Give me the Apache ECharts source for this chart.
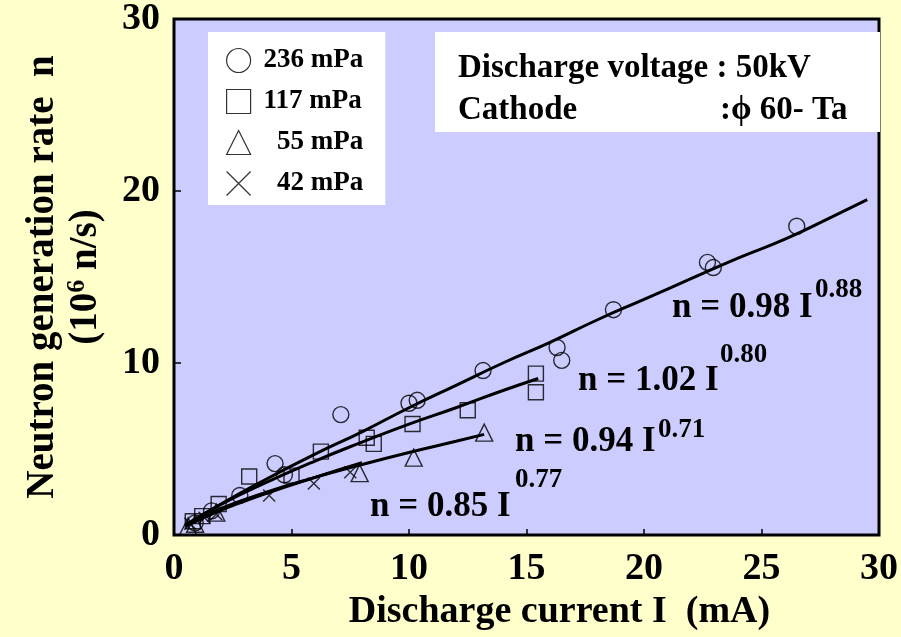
<!DOCTYPE html>
<html><head><meta charset="utf-8">
<script src="https://cdn.jsdelivr.net/npm/echarts@6/dist/echarts.min.js"></script>
<style>html,body{margin:0;padding:0;background:#FFFFCC;}#c{width:901px;height:637px;}</style>
</head><body><div id="c"></div>
<script>
// ---- data ----
const xTicks = [0, 5, 10, 15, 20, 25, 30];
const yTicks = [0, 10, 20, 30];
const seriesNames = ['236 mPa', '117 mPa', '55 mPa', '42 mPa'];
// measured points [I (mA), n (1e6 n/s)]
const pts236 = [[0.9,0.7],[1.6,1.4],[2.8,2.3],[4.3,4.15],[4.7,3.5],[7.1,7.0],[10.0,7.66],[10.35,7.83],[13.15,9.56],[16.3,10.9],[16.5,10.15],[18.7,13.1],[22.7,15.85],[22.95,15.55],[26.5,17.95]];
const pts117 = [[0.8,0.8],[1.2,1.1],[1.9,1.8],[3.2,3.4],[5.0,3.45],[6.25,4.85],[8.2,5.65],[8.5,5.3],[10.15,6.45],[12.5,7.25],[15.4,9.38],[15.4,8.3]];
const pts55 = [[0.6,0.5],[0.9,0.65],[1.8,1.3],[7.9,3.6],[10.2,4.5],[13.2,5.95]];
const pts42 = [[0.7,0.65],[1.3,1.0],[1.8,1.2],[4.05,2.3],[5.95,3.0],[7.5,3.65]];
// fitted curves
const fit236 = [[0.5,0.55],[2,1.8],[4,3.3],[6,4.7],[8,6.0],[10,7.4],[12,8.7],[14,10.0],[16,11.2],[18,12.5],[20,13.7],[22,14.9],[24,16.1],[26,17.2],[28,18.5],[29.5,19.5]];
const fit117 = [[0.5,0.6],[2,1.78],[4,3.1],[6,4.3],[8,5.4],[10,6.45],[12,7.4],[14,8.4],[15.5,9.1]];
const fit55 = [[0.5,0.58],[2,1.54],[4,2.52],[6,3.35],[8,4.1],[10,4.8],[12,5.45],[13.2,5.85]];
const fit42 = [[0.5,0.5],[2,1.45],[4,2.45],[6,3.35],[8,4.2]];
const fitLabels = [
  {main:'n = 0.98 I', sup:'0.88'},
  {main:'n = 1.02 I', sup:'0.80'},
  {main:'n = 0.94 I', sup:'0.71'},
  {main:'n = 0.85 I', sup:'0.77'}
];
const infoLines = ['Discharge voltage : 50kV', 'Cathode', ':\u03D5 60- Ta'];

// ---- chart ----
const F = '"Liberation Serif", "DejaVu Serif", serif';
const crossPath = 'path://M0,0L10,10M10,0L0,10';
const symbols = ['circle', 'rect', 'triangle', crossPath];
const sizes = [16, 15, 17, 12];
const ptsAll = [pts236, pts117, pts55, pts42];
const fitsAll = [fit236, fit117, fit55, fit42];

const series = [];
fitsAll.forEach((d, i) => {
  series.push({
    type: 'line', data: d, smooth: true, showSymbol: false, silent: true,
    lineStyle: {color: '#000', width: 3}, z: 3
  });
});
ptsAll.forEach((d, i) => {
  series.push({
    name: seriesNames[i], type: 'scatter', data: d, symbol: symbols[i], symbolSize: sizes[i],
    itemStyle: {color: 'rgba(0,0,0,0)', borderColor: '#000', borderWidth: 1.4}, z: 4
  });
});

const chart = echarts.init(document.getElementById('c'));

const graphics = [
  {type: 'rect', left: 435, top: 32, z: 5, shape: {width: 445, height: 100}, style: {fill: '#fff'}},
  {type: 'text', left: 458, top: 52, z: 10, style: {text: infoLines[0], font: 'bold 33px ' + F, fill: '#000'}},
  {type: 'text', left: 458, top: 94, z: 10, style: {text: infoLines[1], font: 'bold 33px ' + F, fill: '#000'}},
  {type: 'text', left: 720, top: 94, z: 10, style: {text: infoLines[2], font: 'bold 33px ' + F, fill: '#000'}}
];
const annPos = [[672, 290, 815, 277], [578, 363, 720, 342], [515, 424, 658, 417], [370, 489, 515, 467]];
fitLabels.forEach((f, i) => {
  const p = annPos[i];
  graphics.push({type: 'text', left: p[0], top: p[1], z: 10, style: {text: f.main, font: 'bold 35px ' + F, fill: '#000'}});
  graphics.push({type: 'text', left: p[2], top: p[3], z: 10, style: {text: f.sup, font: 'bold 27px ' + F, fill: '#000'}});
});

chart.setOption({
  backgroundColor: '#FFFFCC',
  animation: false,
  grid: {left: 174, right: 16, top: 14, bottom: 102, show: true, backgroundColor: '#CCCCFF', borderColor: '#000', borderWidth: 3},
  legend: {
    data: seriesNames.map((n, i) => ({name: n, icon: symbols[i]})),
    formatter: n => (n.length < 7 ? '  ' : '') + n,
    orient: 'vertical', left: 208, top: 32,
    backgroundColor: '#fff', padding: [15, 22, 8, 18], itemGap: 14,
    itemWidth: 24, itemHeight: 24,
    itemStyle: {color: 'rgba(0,0,0,0)', borderColor: '#000', borderWidth: 1.2},
    textStyle: {fontFamily: F, fontWeight: 'bold', fontSize: 27, color: '#000', padding: [0, 0, 0, 8]},
    selectedMode: false
  },
  xAxis: {
    type: 'value', min: 0, max: 30, interval: 5,
    axisLine: {show: false}, splitLine: {show: false},
    axisTick: {inside: true, length: 6, lineStyle: {color: '#000', width: 1.5}},
    axisLabel: {margin: 15, fontFamily: F, fontWeight: 'bold', fontSize: 38, color: '#000',
      formatter: v => xTicks.indexOf(v) >= 0 ? String(v) : ''},
    name: 'Discharge current I  (mA)', nameLocation: 'middle', nameGap: 56,
    nameTextStyle: {fontFamily: F, fontWeight: 'bold', fontSize: 38, color: '#000', padding: [0, 0, 0, 66]}
  },
  yAxis: {
    type: 'value', min: 0, max: 30, interval: 10,
    axisLine: {show: false}, splitLine: {show: false},
    axisTick: {inside: true, length: 7, lineStyle: {color: '#000', width: 1.5}},
    axisLabel: {margin: 14, fontFamily: F, fontWeight: 'bold', fontSize: 38, color: '#000',
      formatter: v => yTicks.indexOf(v) >= 0 ? String(v) : ''},
    name: 'Neutron generation rate  n\n(10{s|6} n/s)', nameLocation: 'middle', nameRotate: 90, nameGap: 67,
    nameTextStyle: {fontFamily: F, fontWeight: 'bold', fontSize: 39, color: '#000', lineHeight: 43,
      rich: {s: {fontFamily: F, fontWeight: 'bold', fontSize: 26, color: '#000', verticalAlign: 'top', lineHeight: 43}}}
  },
  graphic: graphics,
  series: series
});
</script></body></html>
